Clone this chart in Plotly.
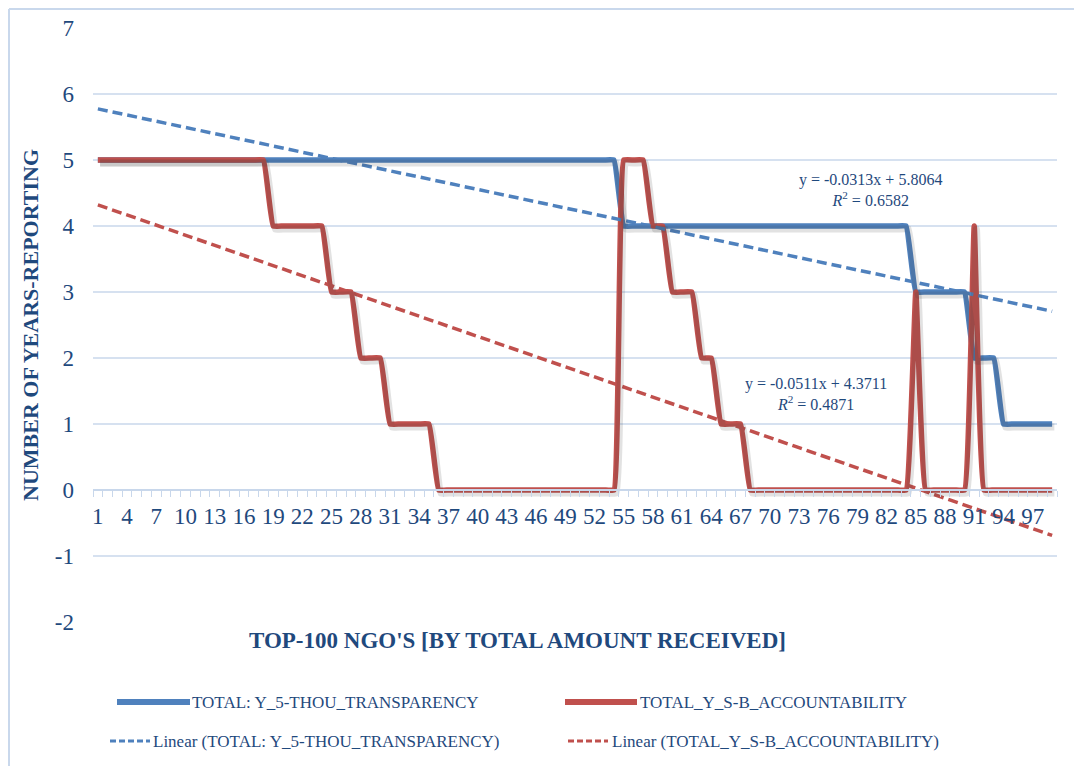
import plotly.graph_objects as go

# ---------------- data ----------------
categories = list(range(1, 100))
x_tick_values = list(range(1, 98, 3))
x_tick_labels = [str(v) for v in x_tick_values]
y_tick_values = [-2, -1, 0, 1, 2, 3, 4, 5, 6, 7]
y_tick_labels = ["-2", "-1", "0", "1", "2", "3", "4", "5", "6", "7"]

transparency = [5, 5, 5, 5, 5, 5, 5, 5, 5, 5,
                5, 5, 5, 5, 5, 5, 5, 5, 5, 5,
                5, 5, 5, 5, 5, 5, 5, 5, 5, 5,
                5, 5, 5, 5, 5, 5, 5, 5, 5, 5,
                5, 5, 5, 5, 5, 5, 5, 5, 5, 5,
                5, 5, 5, 5, 4, 4, 4, 4, 4, 4,
                4, 4, 4, 4, 4, 4, 4, 4, 4, 4,
                4, 4, 4, 4, 4, 4, 4, 4, 4, 4,
                4, 4, 4, 4, 3, 3, 3, 3, 3, 3,
                2, 2, 2, 1, 1, 1, 1, 1, 1]

accountability = [5, 5, 5, 5, 5, 5, 5, 5, 5, 5,
                  5, 5, 5, 5, 5, 5, 5, 5, 4, 4,
                  4, 4, 4, 4, 3, 3, 3, 2, 2, 2,
                  1, 1, 1, 1, 1, 0, 0, 0, 0, 0,
                  0, 0, 0, 0, 0, 0, 0, 0, 0, 0,
                  0, 0, 0, 0, 5, 5, 5, 4, 4, 3,
                  3, 3, 2, 2, 1, 1, 1, 0, 0, 0,
                  0, 0, 0, 0, 0, 0, 0, 0, 0, 0,
                  0, 0, 0, 0, 3, 0, 0, 0, 0, 0,
                  4, 0, 0, 0, 0, 0, 0, 0, 0]

series_names = ["TOTAL: Y_5-THOU_TRANSPARENCY", "TOTAL_Y_S-B_ACCOUNTABILITY"]
trend_slope = [-0.0313, -0.0511]
trend_intercept = [5.8064, 4.3711]
trend_r2 = [0.6582, 0.4871]

# ---------------- style ----------------
BLUE = "#4F81BD"
RED = "#C0504D"
TXT = "#1F497D"
GRID = "#D6E1F0"
FONT = "Liberation Serif"
SMOOTH = 0.3

X_RANGE = [0.5, 99.5]
Y_RANGE = [-2, 7]

fig = go.Figure()

# soft shadows (same data, drawn on a slightly offset overlay axis pair)
for ys in (transparency, accountability):
    fig.add_trace(go.Scatter(x=categories, y=ys, mode="lines", xaxis="x2", yaxis="y2",
                             line=dict(color="rgba(60,60,60,0.15)", width=7, shape="spline", smoothing=SMOOTH),
                             hoverinfo="skip", showlegend=False))

fig.add_trace(go.Scatter(x=categories, y=transparency, mode="lines",
                         line=dict(color=BLUE, width=5.5, shape="spline", smoothing=SMOOTH),
                         name=series_names[0], showlegend=False))
fig.add_trace(go.Scatter(x=categories, y=accountability, mode="lines",
                         line=dict(color=RED, width=5.5, shape="spline", smoothing=SMOOTH),
                         name=series_names[1], showlegend=False))

for i, col in enumerate([BLUE, RED]):
    ty = [trend_slope[i] * x + trend_intercept[i] for x in categories]
    fig.add_trace(go.Scatter(x=categories, y=ty, mode="lines",
                             line=dict(color=col, width=3.5, dash="10px,5px"),
                             name="Linear (" + series_names[i] + ")", showlegend=False))

# equation labels
eq_pos = [(80.3, 4.54, None), (74.8, 1.46, "white")]
for i in range(2):
    txt = "y = %.4fx + %.4f<br><i>R</i><sup>2</sup> = %.4f" % (trend_slope[i], trend_intercept[i], trend_r2[i])
    x, y, bg = eq_pos[i]
    fig.add_annotation(x=x, y=y, xref="x", yref="y", text=txt, showarrow=False,
                       font=dict(family=FONT, size=16, color=TXT), align="center",
                       bgcolor=bg if bg else "rgba(0,0,0,0)", borderpad=2)

# page has an 8px body margin: figure is laid out in page coords minus 8
OFF = 8
W, H = 1082 - OFF, 766 - OFF
L, T = 93 - OFF, 28 - OFF
R, B = W - (1057 - OFF), H - (622 - OFF)
pw, ph = W - L - R, H - T - B

def px(x):
    return (x - OFF - L) / pw

def py(y):
    return (H - B - (y - OFF)) / ph

# axis titles
fig.add_annotation(x=px(30), y=0.5, xref="paper", yref="paper", text="<b>NUMBER OF YEARS-REPORTING</b>",
                   textangle=-90, showarrow=False, font=dict(family=FONT, size=22, color=TXT),
                   xanchor="center", yanchor="middle")
fig.add_annotation(x=px(517), y=py(640), xref="paper", yref="paper",
                   text="<b>TOP-100 NGO'S [BY TOTAL AMOUNT RECEIVED]</b>",
                   showarrow=False, font=dict(family=FONT, size=23, color=TXT),
                   xanchor="center", yanchor="middle")

# legend (manual, two rows)
legend_rows = [
    (702, [(117, 190, BLUE, "solid", 6, 190, series_names[0]),
           (565, 637, RED, "solid", 6, 638, series_names[1])]),
    (741, [(110, 150, BLUE, "dash", 3, 151, "Linear (" + series_names[0] + ")"),
           (568, 608, RED, "dash", 3, 610, "Linear (" + series_names[1] + ")")]),
]
for ry, items in legend_rows:
    for x0, x1, col, dash, w, tx, label in items:
        fig.add_shape(type="line", xref="paper", yref="paper", x0=px(x0), x1=px(x1), y0=py(ry), y1=py(ry),
                      line=dict(color=col, width=w, dash="6px,3px" if dash == "dash" else "solid"))
        fig.add_annotation(x=px(tx), y=py(ry), xref="paper", yref="paper", text=label, showarrow=False,
                           xanchor="left", yanchor="middle", font=dict(family=FONT, size=17, color=TXT))

# outer chart border (left/top)
BORDER = "#C9D8EC"
fig.add_shape(type="line", xref="paper", yref="paper", x0=px(9), x1=px(9), y0=py(9), y1=py(766),
              line=dict(color=BORDER, width=2))
fig.add_shape(type="line", xref="paper", yref="paper", x0=px(9), x1=px(1082), y0=py(9), y1=py(9),
              line=dict(color=BORDER, width=2))

# shadow offset in data units (about 2px right, 3px down)
dx = 2.2 * (X_RANGE[1] - X_RANGE[0]) / pw
dy = 3.0 * (Y_RANGE[1] - Y_RANGE[0]) / ph

fig.update_layout(
    width=W, height=H,
    margin=dict(l=L, r=R, t=T, b=B, autoexpand=False),
    paper_bgcolor="white", plot_bgcolor="white",
    showlegend=False,
    xaxis=dict(range=X_RANGE, tickmode="array", tickvals=x_tick_values, ticktext=x_tick_labels,
               showgrid=False, zeroline=False, showline=True, linecolor="#C8D7EB", linewidth=1.5,
               anchor="free", position=2 / 9, ticks="", automargin=False,
               minor=dict(tickmode="linear", tick0=0.5, dtick=1, ticks="outside", ticklen=6,
                          tickcolor="#C8D7EB", tickwidth=1, showgrid=False),
               tickfont=dict(family=FONT, size=23, color=TXT), ticklabelstandoff=6),
    yaxis=dict(range=Y_RANGE, tickmode="array", tickvals=y_tick_values, ticktext=y_tick_labels,
               showgrid=True, gridcolor=GRID, gridwidth=1.5, automargin=False,
               zeroline=False, showline=False, ticks="", ticklabelstandoff=18,
               tickfont=dict(family=FONT, size=23, color=TXT)),
    xaxis2=dict(range=[X_RANGE[0] - dx, X_RANGE[1] - dx], overlaying="x", visible=False, anchor="y2"),
    yaxis2=dict(range=[Y_RANGE[0] + dy, Y_RANGE[1] + dy], overlaying="y", visible=False, anchor="x2"),
)

fig.write_html("out.html")
